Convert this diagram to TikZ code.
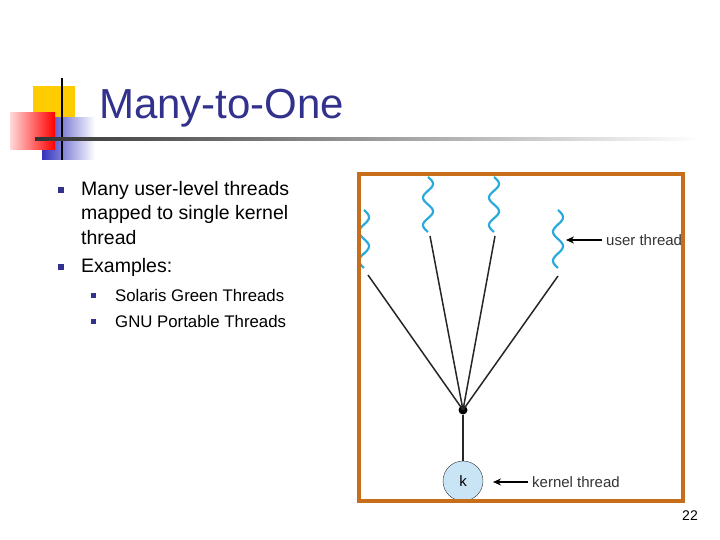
\documentclass[tikz,border=0pt]{standalone}
\usepackage{fontspec}
\setmainfont{Liberation Sans}
\usetikzlibrary{arrows.meta}
\definecolor{ttl}{RGB}{50,50,140}
\definecolor{frame}{RGB}{199,110,26}
\definecolor{wave}{RGB}{40,170,220}
\definecolor{kfill}{RGB}{200,228,245}
\definecolor{lyel}{RGB}{255,204,0}
\definecolor{lblue}{RGB}{50,50,190}
\begin{document}
\begin{tikzpicture}[x=1pt,y=-1pt,
  txt/.style={anchor=west,inner sep=0pt,font=\fontsize{19.5}{23}\selectfont},
  subtxt/.style={anchor=west,inner sep=0pt,font=\fontsize{16.8}{20}\selectfont},
  bul/.style={fill=ttl,minimum size=6pt,inner sep=0pt},
  sbul/.style={fill=ttl,minimum size=5pt,inner sep=0pt},
  link/.style={line width=1.5pt,black!85},
  arr/.style={line width=1.5pt,-{Stealth[length=8pt,width=7pt]}},
  lab/.style={anchor=west,inner sep=0pt,text=black!80,font=\fontsize{15}{18}\selectfont},
  wav/.style={wave,line width=2.2pt}]
\useasboundingbox (0,0) rectangle (720,540);
% logo
\fill[lyel] (33,86) rectangle (75,128);
\shade[left color=lblue,right color=white] (42,118) rectangle (95,160);
\shade[left color=red!15,right color=red] (10,113) rectangle (55,150);
\draw[line width=1.4pt] (62,78) -- (62,160);
\shade[left color=black!80,right color=white] (35,138) rectangle (700,140.5);
\node[anchor=base west,inner sep=0pt,text=ttl,font=\fontsize{42}{50}\selectfont] (title) at (99,119) {Many-to-One};
% bullets
\node[bul] (b1) at (61,190) {};
\node[txt] (t1) at (81,190) {Many user-level threads};
\node[txt] (t1b) at (81,214) {mapped to single kernel};
\node[txt] (t1c) at (81,238) {thread};
\node[bul] (b2) at (61,267) {};
\node[txt] (t2) at (81,267) {Examples:};
\node[sbul] (s1) at (93,295) {};
\node[subtxt] (st1) at (115,295) {Solaris Green Threads};
\node[sbul] (s2) at (93,321) {};
\node[subtxt] (st2) at (115,321) {GNU Portable Threads};
% diagram
\begin{scope}
\clip (358,173) rectangle (684,502);
\draw[wav] plot[domain=0:1,samples=50] ({364+5*sin(720*\x)},{210+58*\x});
\draw[wav] plot[domain=0:1,samples=50] ({428+5*sin(720*\x)},{177+55*\x});
\draw[wav] plot[domain=0:1,samples=50] ({494+5*sin(720*\x)},{177+55*\x});
\draw[wav] plot[domain=0:1,samples=50] ({558+5*sin(720*\x)},{210+58*\x});
\coordinate (u1) at (368,275);
\coordinate (u2) at (430,236);
\coordinate (u3) at (495,236);
\coordinate (u4) at (558,276);
\node[circle,fill=black,minimum size=9pt,inner sep=0pt] (hub) at (463,410) {};
\node[circle,draw=black!80,fill=kfill,minimum size=40pt,inner sep=0pt,font=\fontsize{15}{18}\selectfont] (k) at (463,481) {k};
\foreach \u in {u1,u2,u3,u4} \draw[link] (\u) -- (hub.center);
\draw[link] (hub) -- (k);
\coordinate (ua) at (602,240);
\coordinate (ub) at (566,240);
\draw[arr] (ua) -- (ub);
\node[lab] (ul) at (606,240) {user thread};
\coordinate (ka) at (528,482);
\coordinate (kb) at (493,482);
\draw[arr] (ka) -- (kb);
\node[lab] (kl) at (532,482) {kernel thread};
\end{scope}
\draw[frame,line width=3.5pt] (359,174) rectangle (683,501);
\node[anchor=east,inner sep=0pt,font=\fontsize{14}{17}\selectfont] (pg) at (698,516) {22};
\end{tikzpicture}
\end{document}
